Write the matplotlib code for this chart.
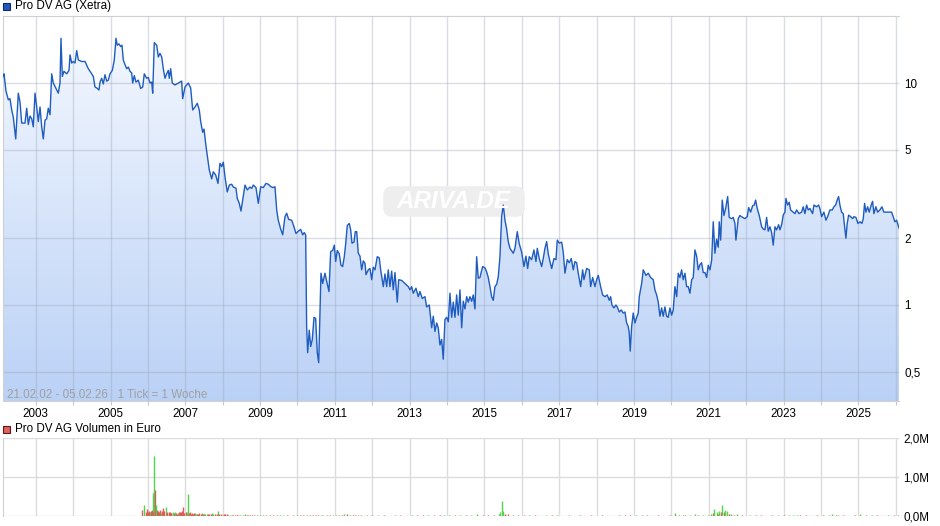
import numpy as np
import matplotlib.pyplot as plt
from matplotlib.patches import FancyBboxPatch, Rectangle

plt.rcParams["font.family"] = ["Liberation Sans", "DejaVu Sans"]

# weekly close (sampled), decimal year -> EUR
years = [
    2002.140, 2002.152, 2002.205, 2002.267, 2002.312, 2002.358, 2002.401, 2002.465,
    2002.534, 2002.580, 2002.625, 2002.713, 2002.759, 2002.802, 2002.847, 2002.893,
    2002.935, 2002.981, 2003.026, 2003.069, 2003.115, 2003.160, 2003.203, 2003.248,
    2003.294, 2003.336, 2003.382, 2003.427, 2003.470, 2003.561, 2003.604, 2003.649,
    2003.676, 2003.711, 2003.756, 2003.828, 2003.890, 2003.917, 2003.962, 2004.005,
    2004.050, 2004.096, 2004.139, 2004.229, 2004.318, 2004.406, 2004.497, 2004.540,
    2004.585, 2004.631, 2004.692, 2004.719, 2004.764, 2004.807, 2004.852, 2004.898,
    2004.941, 2004.986, 2005.048, 2005.101, 2005.147, 2005.181, 2005.227, 2005.272,
    2005.307, 2005.342, 2005.387, 2005.433, 2005.476, 2005.521, 2005.566, 2005.593,
    2005.636, 2005.681, 2005.743, 2005.807, 2005.861, 2005.903, 2005.967, 2006.010,
    2006.056, 2006.101, 2006.128, 2006.171, 2006.235, 2006.278, 2006.323, 2006.369,
    2006.411, 2006.457, 2006.502, 2006.545, 2006.572, 2006.609, 2006.652, 2006.724,
    2006.813, 2006.903, 2006.930, 2006.992, 2007.080, 2007.144, 2007.197, 2007.259,
    2007.320, 2007.374, 2007.411, 2007.465, 2007.500, 2007.553, 2007.588, 2007.641,
    2007.705, 2007.748, 2007.812, 2007.874, 2007.927, 2007.973, 2008.016, 2008.061,
    2008.122, 2008.176, 2008.240, 2008.283, 2008.355, 2008.390, 2008.443, 2008.489,
    2008.534, 2008.596, 2008.657, 2008.730, 2008.775, 2008.818, 2008.890, 2008.952,
    2009.016, 2009.085, 2009.157, 2009.219, 2009.291, 2009.353, 2009.398, 2009.444,
    2009.486, 2009.550, 2009.604, 2009.665, 2009.711, 2009.764, 2009.845, 2009.906,
    2009.959, 2010.021, 2010.085, 2010.139, 2010.181, 2010.219, 2010.245, 2010.272,
    2010.315, 2010.353, 2010.396, 2010.441, 2010.486, 2010.529, 2010.567, 2010.601,
    2010.628, 2010.673, 2010.735, 2010.780, 2010.842, 2010.887, 2010.941, 2010.984,
    2011.021, 2011.064, 2011.117, 2011.163, 2011.208, 2011.251, 2011.288, 2011.331,
    2011.385, 2011.422, 2011.457, 2011.510, 2011.545, 2011.583, 2011.626, 2011.671,
    2011.716, 2011.759, 2011.805, 2011.831, 2011.893, 2011.938, 2011.984, 2012.026,
    2012.072, 2012.133, 2012.187, 2012.224, 2012.294, 2012.339, 2012.385, 2012.427,
    2012.473, 2012.518, 2012.561, 2012.607, 2012.668, 2012.706, 2012.786, 2012.874,
    2012.962, 2013.008, 2013.053, 2013.096, 2013.168, 2013.230, 2013.275, 2013.337,
    2013.409, 2013.454, 2013.524, 2013.588, 2013.631, 2013.676, 2013.722, 2013.764,
    2013.810, 2013.855, 2013.898, 2013.943, 2013.989, 2014.032, 2014.077, 2014.123,
    2014.166, 2014.211, 2014.256, 2014.299, 2014.345, 2014.390, 2014.433, 2014.478,
    2014.524, 2014.566, 2014.612, 2014.657, 2014.700, 2014.746, 2014.791, 2014.834,
    2014.879, 2014.951, 2015.013, 2015.058, 2015.101, 2015.147, 2015.192, 2015.235,
    2015.280, 2015.326, 2015.369, 2015.414, 2015.459, 2015.502, 2015.548, 2015.593,
    2015.636, 2015.682, 2015.770, 2015.815, 2015.877, 2015.930, 2015.994, 2016.056,
    2016.109, 2016.155, 2016.197, 2016.261, 2016.323, 2016.377, 2016.412, 2016.465,
    2016.529, 2016.572, 2016.617, 2016.663, 2016.706, 2016.751, 2016.797, 2016.858,
    2016.912, 2016.947, 2017.000, 2017.064, 2017.107, 2017.152, 2017.214, 2017.267,
    2017.321, 2017.374, 2017.419, 2017.465, 2017.508, 2017.572, 2017.625, 2017.660,
    2017.732, 2017.802, 2017.839, 2017.893, 2017.954, 2018.000, 2018.043, 2018.106,
    2018.160, 2018.222, 2018.283, 2018.337, 2018.374, 2018.409, 2018.462, 2018.516,
    2018.551, 2018.604, 2018.658, 2018.711, 2018.757, 2018.802, 2018.845, 2018.871,
    2018.898, 2018.935, 2018.978, 2019.024, 2019.069, 2019.112, 2019.139, 2019.203,
    2019.246, 2019.318, 2019.380, 2019.444, 2019.513, 2019.558, 2019.604, 2019.647,
    2019.692, 2019.738, 2019.780, 2019.826, 2019.871, 2019.914, 2019.959, 2020.005,
    2020.048, 2020.093, 2020.139, 2020.182, 2020.227, 2020.272, 2020.315, 2020.361,
    2020.406, 2020.449, 2020.494, 2020.540, 2020.583, 2020.628, 2020.674, 2020.716,
    2020.762, 2020.807, 2020.850, 2020.896, 2020.941, 2020.984, 2021.029, 2021.075,
    2021.118, 2021.163, 2021.208, 2021.251, 2021.278, 2021.316, 2021.358, 2021.404,
    2021.449, 2021.503, 2021.545, 2021.610, 2021.652, 2021.698, 2021.724, 2021.786,
    2021.831, 2021.904, 2021.965, 2022.027, 2022.064, 2022.117, 2022.171, 2022.214,
    2022.251, 2022.294, 2022.348, 2022.412, 2022.455, 2022.500, 2022.545, 2022.588,
    2022.634, 2022.679, 2022.722, 2022.767, 2022.812, 2022.866, 2022.901, 2022.946,
    2022.989, 2023.034, 2023.061, 2023.107, 2023.149, 2023.187, 2023.256, 2023.302,
    2023.347, 2023.409, 2023.481, 2023.524, 2023.569, 2023.615, 2023.658, 2023.703,
    2023.775, 2023.810, 2023.882, 2023.936, 2023.970, 2024.016, 2024.077, 2024.131,
    2024.176, 2024.238, 2024.299, 2024.345, 2024.390, 2024.433, 2024.470, 2024.505,
    2024.550, 2024.594, 2024.631, 2024.666, 2024.700, 2024.738, 2024.791, 2024.845,
    2024.880, 2024.933, 2024.987, 2025.040, 2025.094, 2025.129, 2025.165, 2025.200,
    2025.246, 2025.288, 2025.342, 2025.379, 2025.414, 2025.467, 2025.513, 2025.574,
    2025.628, 2025.681, 2025.753, 2025.815, 2025.887, 2025.930, 2025.975, 2026.020,
    2026.090,
]
prices = [
    10.7, 11.0, 9.2, 8.4, 8.5, 7.56, 7.0, 5.6,
    9.0, 8.2, 6.6, 6.6, 7.7, 6.5, 7.1, 6.9,
    6.35, 9.0, 7.8, 6.7, 7.8, 6.35, 5.6, 6.8,
    6.9, 7.7, 7.2, 11.0, 10.0, 9.3, 9.0, 10.0,
    15.9, 10.7, 11.3, 11.0, 11.4, 13.4, 12.3, 12.5,
    12.3, 14.0, 12.7, 12.5, 12.5, 11.6, 11.0, 10.7,
    9.6, 9.5, 9.3, 10.1, 10.5, 9.9, 10.9, 10.2,
    10.3, 11.0, 11.4, 12.7, 15.9, 14.8, 15.0, 14.6,
    14.8, 12.7, 12.1, 11.6, 11.8, 11.3, 11.1, 10.0,
    10.8, 10.1, 10.3, 9.45, 9.6, 11.0, 10.5, 10.6,
    10.0, 10.1, 9.0, 15.2, 14.8, 13.1, 13.6, 13.1,
    11.6, 10.5, 11.0, 11.4, 10.5, 11.6, 10.0, 9.8,
    10.0, 10.2, 8.5, 9.6, 10.0, 9.5, 7.56, 7.8,
    8.1, 7.56, 6.7, 6.0, 6.2, 5.2, 4.7, 4.06,
    3.7, 3.98, 3.85, 3.53, 4.35, 4.2, 4.4, 3.78,
    3.23, 3.47, 3.5, 3.4, 3.36, 3.02, 2.87, 2.65,
    2.97, 3.47, 3.3, 3.4, 3.35, 3.47, 3.38, 2.87,
    3.41, 3.38, 3.53, 3.5, 3.41, 3.38, 3.41, 2.68,
    2.41, 2.2, 2.07, 2.5, 2.59, 2.43, 2.41, 2.25,
    2.1, 2.15, 2.19, 2.07, 2.12, 2.07, 0.80, 0.61,
    0.77, 0.65, 0.70, 0.88, 0.87, 0.61, 0.55, 0.92,
    1.39, 1.25, 1.39, 1.28, 1.15, 1.74, 1.76, 1.86,
    1.57, 1.76, 1.7, 1.51, 1.49, 1.65, 1.88, 2.28,
    2.33, 2.18, 1.9, 1.92, 2.14, 2.14, 1.71, 1.66,
    1.44, 1.58, 1.54, 1.37, 1.44, 1.46, 1.30, 1.48,
    1.44, 1.65, 1.63, 1.44, 1.21, 1.38, 1.21, 1.44,
    1.21, 1.42, 1.17, 1.4, 1.03, 1.30, 1.29, 1.25,
    1.21, 1.17, 1.21, 1.13, 1.19, 1.09, 1.15, 1.07,
    1.09, 0.98, 1.0, 0.79, 0.89, 0.76, 0.83, 0.79,
    0.66, 0.70, 0.57, 0.86, 0.88, 0.84, 1.13, 0.88,
    1.03, 0.88, 1.11, 0.9, 1.17, 0.79, 1.04, 0.96,
    1.09, 1.03, 1.09, 1.04, 1.11, 0.96, 1.65, 1.32,
    1.33, 1.49, 1.47, 1.41, 1.33, 1.21, 1.09, 1.05,
    1.21, 1.24, 1.34, 1.65, 2.5, 2.82, 2.41, 2.2,
    1.93, 1.8, 1.71, 1.8, 2.14, 1.89, 1.73, 1.49,
    1.66, 1.46, 1.65, 1.6, 1.77, 1.57, 1.8, 1.62,
    1.49, 1.62, 1.8, 1.93, 1.7, 1.57, 1.46, 1.62,
    1.6, 1.96, 1.9, 1.92, 1.73, 1.39, 1.6, 1.55,
    1.62, 1.44, 1.57, 1.55, 1.39, 1.21, 1.44, 1.3,
    1.46, 1.44, 1.21, 1.33, 1.21, 1.3, 1.36, 1.21,
    1.11, 1.09, 1.11, 1.05, 1.09, 1.0, 0.97, 1.0,
    0.98, 0.93, 0.95, 0.92, 0.93, 0.83, 0.80, 0.75,
    0.62, 0.80, 0.92, 0.83, 0.88, 0.92, 1.09, 1.25,
    1.44, 1.36, 1.39, 1.33, 1.30, 1.17, 1.11, 1.03,
    0.89, 0.97, 0.89, 0.98, 0.89, 0.88, 0.97, 0.9,
    0.95, 1.21, 1.09, 1.39, 1.33, 1.44, 1.3, 1.39,
    1.21, 1.21, 1.13, 1.3, 1.33, 1.77, 1.66, 1.44,
    1.52, 1.55, 1.4, 1.4, 1.33, 1.51, 1.44, 1.59,
    2.37, 1.71, 1.98, 1.82, 2.37, 1.96, 2.97, 2.53,
    2.72, 3.08, 2.48, 2.45, 2.48, 2.33, 1.96, 2.45,
    2.53, 2.48, 2.45, 2.5, 2.75, 2.62, 2.8, 2.82,
    2.97, 2.72, 2.53, 2.25, 2.2, 2.18, 2.48, 2.15,
    2.25, 2.12, 1.86, 2.25, 2.18, 2.3, 2.18, 2.3,
    2.54, 2.62, 3.02, 2.82, 2.9, 2.68, 2.62, 2.58,
    2.68, 2.58, 2.62, 2.77, 2.58, 2.82, 2.68, 2.72,
    2.58, 2.82, 2.77, 2.82, 2.72, 2.5, 2.62, 2.41,
    2.5, 2.68, 2.68, 2.77, 2.82, 2.97, 3.08, 2.82,
    2.62, 2.58, 2.25, 2.0, 2.33, 2.54, 2.5, 2.45,
    2.5, 2.48, 2.33, 2.37, 2.33, 2.45, 2.87, 2.62,
    2.77, 2.62, 2.82, 2.93, 2.58, 2.77, 2.62, 2.68,
    2.77, 2.62, 2.62, 2.62, 2.62, 2.5, 2.37, 2.41,
    2.21,
]

# weekly turnover in million EUR, 1 = rising week (green), 0 = falling (red)
vol_years = [
    2005.833, 2005.895, 2005.940, 2005.985, 2006.029, 2006.056, 2006.100, 2006.127,
    2006.163, 2006.190, 2006.216, 2006.252, 2006.288, 2006.323, 2006.368, 2006.412,
    2006.439, 2006.475, 2006.519, 2006.564, 2006.608, 2006.662, 2006.698, 2006.742,
    2006.796, 2006.840, 2006.885, 2006.929, 2006.974, 2007.018, 2007.054, 2007.081,
    2007.125, 2007.170, 2007.215, 2007.259, 2007.304, 2007.375, 2007.437, 2007.500,
    2007.571, 2007.642, 2007.705, 2007.794, 2007.883, 2007.945, 2008.034, 2008.106,
    2008.195, 2008.284, 2008.373, 2008.462, 2008.596, 2008.685, 2008.774, 2008.908,
    2009.086, 2009.265, 2009.443, 2009.621, 2009.888, 2010.156, 2010.423,
    2010.55, 2010.68, 2010.80, 2010.95, 2011.10, 2011.25, 2011.33, 2011.40,
    2011.55, 2011.70, 2011.85, 2012.00, 2012.15, 2012.30, 2012.45, 2012.60,
    2012.75, 2012.90, 2013.05, 2013.20, 2013.35, 2013.50, 2013.65, 2013.80,
    2013.92, 2014.05, 2014.20, 2014.35, 2014.50, 2014.65, 2014.80, 2014.95,
    2015.10, 2015.25, 2015.38, 2015.42, 2015.46, 2015.50, 2015.55, 2015.62,
    2015.75, 2015.90, 2016.05, 2016.20, 2016.35, 2016.50, 2016.65, 2016.80,
    2016.95, 2017.10, 2017.25, 2017.40, 2017.55, 2017.70, 2017.85, 2018.00,
    2018.15, 2018.30, 2018.45, 2018.60, 2018.75, 2018.90, 2019.05, 2019.20,
    2019.35, 2019.50, 2019.65, 2019.80, 2019.95, 2020.09, 2020.20, 2020.32,
    2020.37, 2020.50, 2020.63, 2020.70, 2020.85, 2020.97, 2021.07, 2021.11,
    2021.14, 2021.21, 2021.25, 2021.28, 2021.32, 2021.36, 2021.40, 2021.44,
    2021.49, 2021.54, 2021.60, 2021.68, 2021.76, 2021.90, 2022.10, 2022.25,
    2022.40, 2022.55, 2022.70, 2022.85, 2023.00, 2023.15, 2023.25, 2023.35,
    2023.45, 2023.60, 2023.75, 2023.90, 2024.05, 2024.20, 2024.30, 2024.40,
    2024.45, 2024.60, 2024.75, 2024.90, 2025.05, 2025.20, 2025.35, 2025.50,
    2025.65, 2025.80, 2025.95, 2026.05,
    # extra small weeks
    2006.005, 2006.075, 2006.145, 2006.270, 2006.345, 2006.390, 2006.500, 2006.585,
    2006.630, 2006.720, 2006.770, 2006.860, 2006.905, 2006.950, 2007.035, 2007.100,
    2007.150, 2007.235, 2007.280, 2007.340, 2007.410, 2007.470, 2007.540, 2007.610,
    2007.675, 2007.740, 2007.840, 2007.910, 2008.000, 2008.070, 2008.150, 2008.240,
    2008.330, 2008.420, 2008.530, 2008.640, 2008.730, 2008.840, 2008.990, 2009.170,
    2009.350, 2009.530, 2009.710, 2009.800, 2010.000, 2010.080, 2010.250, 2010.330,
    2010.500, 2010.620, 2010.740, 2010.880, 2011.020, 2011.180, 2011.480, 2011.630,
]
vol_mio = [
    0.15, 0.28, 0.11, 0.17, 0.14, 0.11, 0.15, 0.58,
    1.53, 0.66, 0.28, 0.15, 0.11, 0.15, 0.11, 0.20,
    0.14, 0.22, 0.08, 0.11, 0.08, 0.11, 0.07, 0.08,
    0.07, 0.09, 0.11, 0.24, 0.08, 0.11, 0.08, 0.56,
    0.11, 0.08, 0.05, 0.07, 0.05, 0.07, 0.07, 0.05,
    0.06, 0.05, 0.07, 0.05, 0.13, 0.04, 0.04, 0.04,
    0.03, 0.03, 0.03, 0.03, 0.05, 0.03, 0.03, 0.03,
    0.03, 0.03, 0.02, 0.02, 0.03, 0.02, 0.02,
    0.02, 0.03, 0.02, 0.03, 0.02, 0.04, 0.05, 0.03,
    0.02, 0.02, 0.03, 0.02, 0.02, 0.02, 0.01, 0.02,
    0.02, 0.01, 0.02, 0.02, 0.02, 0.02, 0.03, 0.03,
    0.03, 0.02, 0.03, 0.02, 0.02, 0.02, 0.04, 0.02,
    0.02, 0.02, 0.04, 0.10, 0.38, 0.12, 0.06, 0.04,
    0.03, 0.02, 0.02, 0.02, 0.02, 0.01, 0.02, 0.02,
    0.02, 0.01, 0.02, 0.01, 0.02, 0.01, 0.02, 0.01,
    0.02, 0.01, 0.01, 0.02, 0.02, 0.03, 0.02, 0.03,
    0.02, 0.01, 0.02, 0.01, 0.02, 0.07, 0.02, 0.03,
    0.03, 0.02, 0.05, 0.03, 0.02, 0.03, 0.05, 0.07,
    0.18, 0.09, 0.05, 0.13, 0.09, 0.28, 0.10, 0.15,
    0.13, 0.06, 0.04, 0.03, 0.05, 0.02, 0.03, 0.02,
    0.02, 0.01, 0.02, 0.02, 0.02, 0.03, 0.02, 0.03,
    0.02, 0.02, 0.01, 0.02, 0.02, 0.02, 0.04, 0.03,
    0.02, 0.02, 0.01, 0.02, 0.04, 0.02, 0.02, 0.02,
    0.01, 0.02, 0.02, 0.02,
    0.09, 0.12, 0.10, 0.13, 0.08, 0.12, 0.09, 0.10,
    0.07, 0.09, 0.06, 0.10, 0.12, 0.07, 0.09, 0.08,
    0.06, 0.07, 0.06, 0.05, 0.06, 0.05, 0.04, 0.05,
    0.04, 0.04, 0.05, 0.04, 0.03, 0.04, 0.03, 0.03,
    0.03, 0.02, 0.03, 0.02, 0.02, 0.03, 0.02, 0.02,
    0.02, 0.02, 0.02, 0.01, 0.02, 0.02, 0.02, 0.02,
    0.02, 0.02, 0.01, 0.02, 0.02, 0.02, 0.02, 0.02,
]
vol_up = [
    0, 1, 0, 0, 0, 1, 0, 1,
    1, 0, 1, 0, 0, 0, 1, 0,
    0, 1, 0, 0, 0, 1, 0, 0,
    1, 0, 0, 0, 0, 0, 0, 1,
    0, 0, 0, 1, 0, 0, 1, 0,
    1, 0, 1, 0, 1, 0, 0, 0,
    1, 0, 0, 1, 1, 0, 0, 1,
    0, 0, 0, 1, 0, 0, 0,
    0, 1, 0, 1, 0, 1, 0, 1,
    0, 0, 1, 0, 1, 0, 0, 1,
    0, 0, 1, 0, 0, 1, 0, 0,
    1, 1, 0, 1, 0, 1, 1, 0,
    0, 0, 1, 1, 1, 1, 0, 0,
    1, 0, 0, 1, 0, 0, 1, 0,
    1, 0, 0, 1, 0, 0, 0, 1,
    0, 0, 1, 0, 0, 0, 1, 1,
    0, 0, 0, 1, 0, 1, 0, 1,
    0, 1, 1, 0, 1, 1, 1, 0,
    1, 1, 0, 1, 0, 1, 0, 1,
    1, 0, 1, 0, 1, 0, 1, 0,
    0, 1, 0, 1, 0, 1, 1, 1,
    0, 0, 1, 0, 0, 1, 1, 1,
    0, 0, 1, 0, 1, 0, 1, 0,
    0, 1, 0, 0,
    0, 0, 0, 0, 1, 0, 0, 0,
    0, 1, 0, 0, 0, 0, 1, 0,
    0, 0, 1, 0, 0, 0, 1, 0,
    0, 1, 0, 0, 0, 0, 1, 0,
    0, 0, 1, 0, 0, 0, 1, 0,
    0, 1, 0, 0, 1, 0, 0, 0,
    0, 1, 0, 0, 1, 0, 0, 1,
]

year_ticks = list(range(2003, 2027))
year_labels = [str(y) if y % 2 == 1 else "" for y in year_ticks]
price_ticks = [0.5, 1, 2, 5, 10]
price_labels = ["0,5", "1", "2", "5", "10"]
vol_ticks = [0, 1, 2]
vol_labels = ["0,0M", "1,0M", "2,0M"]

W, H = 940, 526
fs = 8.4
grid_c = "#dcdcdc"
line_c = "#1f5cc0"

fig = plt.figure(figsize=(W / 100, H / 100), dpi=100)
ax = fig.add_axes([3 / W, 125 / H, 896 / W, 385 / H])
ax2 = fig.add_axes([3 / W, 10 / H, 896 / W, 78.5 / H])

# --- price panel ---
ax.set_yscale("log")
fill = ax.fill_between(years, prices, 0.2, facecolor="none", edgecolor="none")
grad = np.linspace([0.965, 0.978, 1.0], [0.73, 0.82, 0.965], 256).reshape(256, 1, 3)
im = ax.imshow(grad, extent=(0, 1, 0, 1), transform=ax.transAxes,
               aspect="auto", zorder=1, interpolation="bilinear")
im.set_clip_path(fill.get_paths()[0], transform=fill.get_transform())
ax.plot(years, prices, color=line_c, lw=1.0, zorder=3)

ax.set_xlim(2002.125, 2026.085)
ax.set_ylim(0.3694, 20.04)
ax.set_axisbelow("line")
ax.set_xticks(year_ticks)
ax.set_xticklabels(year_labels)
ax.set_yticks(price_ticks)
ax.set_yticklabels(price_labels)
ax.yaxis.set_minor_locator(plt.NullLocator())
ax.yaxis.tick_right()
ax.tick_params(axis="y", length=0, pad=4, labelsize=fs)
ax.tick_params(axis="x", length=3, color="#c8c8c8", pad=2, labelsize=fs)
ax.grid(True, color="#9aa4b6", alpha=0.36, lw=1)
for side in ("left", "top", "bottom"):
    ax.spines[side].set_color("#d0d0d0")
ax.spines["right"].set_visible(False)

ax.text(0.005, 0.016, "21.02.02 - 05.02.26   1 Tick = 1 Woche", transform=ax.transAxes,
        fontsize=fs, color="#a0a0a0", va="center", ha="left", zorder=4)

# watermark
wm = FancyBboxPatch((386 / W, (H - 214) / H), 136 / W, 25 / H,
                    boxstyle="round,pad=0.003,rounding_size=0.01",
                    transform=fig.transFigure, facecolor="#eeeeee",
                    edgecolor="none", zorder=2, mutation_aspect=W / H)
ax.add_patch(wm)
fig.text(454 / W, (H - 201) / H, "ARIVA.DE", fontsize=17.5, fontweight="bold",
         fontstyle="italic", color="white", ha="center", va="center", zorder=2.5)

# --- volume panel ---
bar_colors = ["#4cd64c" if u else "#e05a5a" for u in vol_up]
ax2.vlines(vol_years, 0, vol_mio, colors=bar_colors, lw=1.0, zorder=2)
ax2.set_xlim(2002.125, 2026.085)
ax2.set_ylim(0, 2.0)
ax2.set_xticks(year_ticks)
ax2.set_xticklabels([])
ax2.set_yticks(vol_ticks)
ax2.set_yticklabels(vol_labels)
ax2.yaxis.tick_right()
ax2.tick_params(axis="both", length=0, pad=3, labelsize=fs)
ax2.grid(True, color=grid_c, lw=1, zorder=0)
ax2.set_axisbelow(True)
for side in ("top", "right", "bottom"):
    ax2.spines[side].set_visible(False)
ax2.spines["left"].set_color("#d0d0d0")

# --- legend headers ---
fig.patches.append(Rectangle((3 / W, (H - 10) / H), 7 / W, 7 / H, transform=fig.transFigure,
                             facecolor="#2258bb", edgecolor="#0c2c6e", lw=0.8))
fig.text(15 / W, (H - 6.5) / H, "Pro DV AG (Xetra)", fontsize=fs, va="center", ha="left")
fig.patches.append(Rectangle((3 / W, (H - 432.5) / H), 7 / W, 7 / H, transform=fig.transFigure,
                             facecolor="#e06060", edgecolor="#5a1a1a", lw=0.8))
fig.text(15 / W, (H - 429) / H, "Pro DV AG Volumen in Euro", fontsize=fs, va="center", ha="left")

fig.savefig("out.png", dpi=100)
